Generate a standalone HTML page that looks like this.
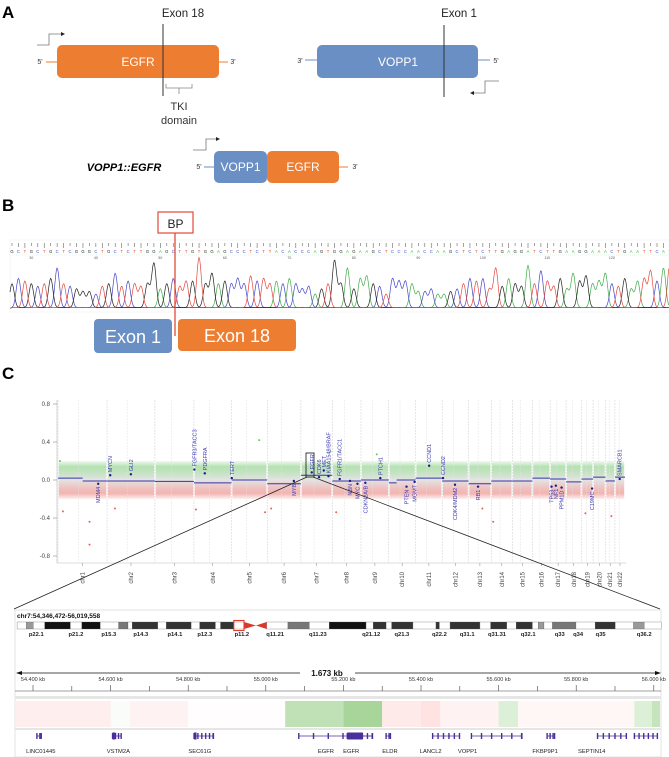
<!DOCTYPE html>
<html><head><meta charset="utf-8"><style>
html,body{margin:0;padding:0;background:#fff}
svg{display:block;font-family:"Liberation Sans",Arial,sans-serif}
</style></head><body>
<svg id="fig" width="669" height="757" viewBox="0 0 669 757" xmlns="http://www.w3.org/2000/svg">
<g>
<text x="2" y="18" font-size="17" font-weight="bold">A</text>
<text x="183" y="17" font-size="11.5" text-anchor="middle" fill="#222">Exon 18</text>
<path d="M37 45 H49 V34 H62" fill="none" stroke="#777" stroke-width="0.8"/>
<path d="M61 32 L65 34 L61 36 Z" fill="#222"/>
<line x1="46" y1="62" x2="57" y2="62" stroke="#ED7D31" stroke-width="1"/>
<line x1="219" y1="62" x2="228" y2="62" stroke="#ED7D31" stroke-width="1"/>
<text x="40" y="64" font-size="7" text-anchor="middle" fill="#333">5'</text>
<text x="233" y="64" font-size="7" text-anchor="middle" fill="#333">3'</text>
<rect x="57" y="45" width="162" height="33" rx="5" fill="#ED7D31"/>
<text x="138" y="66" font-size="12" fill="#fff" text-anchor="middle">EGFR</text>
<line x1="163" y1="24" x2="163" y2="96" stroke="#333" stroke-width="1"/>
<path d="M166 84 V88 H192 V84 M179 88 V94" fill="none" stroke="#888" stroke-width="0.8"/>
<text x="179" y="110" font-size="11" text-anchor="middle" fill="#333">TKI</text>
<text x="179" y="124" font-size="11" text-anchor="middle" fill="#333">domain</text>

<text x="459" y="17" font-size="11.5" text-anchor="middle" fill="#222">Exon 1</text>
<line x1="305" y1="60" x2="317" y2="60" stroke="#6A8FC4" stroke-width="1"/>
<line x1="478" y1="60" x2="490" y2="60" stroke="#6A8FC4" stroke-width="1"/>
<text x="300" y="63" font-size="7" text-anchor="middle" fill="#333">3'</text>
<text x="496" y="63" font-size="7" text-anchor="middle" fill="#333">5'</text>
<rect x="317" y="45" width="161" height="33" rx="5" fill="#6A8FC4"/>
<text x="398" y="66" font-size="12" fill="#fff" text-anchor="middle">VOPP1</text>
<line x1="444" y1="25" x2="444" y2="97" stroke="#333" stroke-width="1"/>
<path d="M499 81 H485 V93 H473" fill="none" stroke="#777" stroke-width="0.8"/>
<path d="M474 91 L470 93 L474 95 Z" fill="#222"/>

<text x="124" y="171" font-size="11" font-weight="bold" font-style="italic" text-anchor="middle">VOPP1::EGFR</text>
<path d="M193 150 H206 V139 H217" fill="none" stroke="#777" stroke-width="0.8"/>
<path d="M216 137 L220 139 L216 141 Z" fill="#222"/>
<line x1="204" y1="167" x2="214" y2="167" stroke="#6A8FC4" stroke-width="1"/>
<line x1="339" y1="167" x2="348" y2="167" stroke="#ED7D31" stroke-width="1"/>
<text x="199" y="169" font-size="7" text-anchor="middle" fill="#333">5'</text>
<text x="355" y="169" font-size="7" text-anchor="middle" fill="#333">3'</text>
<rect x="214" y="151" width="53" height="32" rx="5" fill="#6A8FC4"/>
<rect x="267" y="151" width="72" height="32" rx="5" fill="#ED7D31"/>
<text x="240.5" y="171" font-size="12" fill="#fff" text-anchor="middle">VOPP1</text>
<text x="303" y="171" font-size="12" fill="#fff" text-anchor="middle">EGFR</text>
</g>

<g>
<text x="2" y="211" font-size="17" font-weight="bold">B</text>
<g id="chromo"></g>
<rect x="158" y="212" width="35" height="21" fill="#fff" stroke="#E04A3A" stroke-width="1.2"/>
<text x="175.5" y="228" font-size="12" text-anchor="middle" fill="#222">BP</text>
<rect x="94" y="319" width="78" height="34" rx="4" fill="#6A8FC4"/>
<text x="133" y="343" font-size="18" fill="#fff" text-anchor="middle">Exon 1</text>
<rect x="178" y="319" width="118" height="32" rx="4" fill="#ED7D31"/>
<text x="237" y="342" font-size="18" fill="#fff" text-anchor="middle">Exon 18</text>
<line x1="175" y1="233" x2="175" y2="336" stroke="#E04A3A" stroke-width="1.3"/>
</g>

<g>
<text x="2" y="379" font-size="17" font-weight="bold">C</text>
<g id="cnv"></g>
<g id="igv"></g>
</g>
</svg>
<script>
var seqBases = "GCTGCTGCTCGGGCTGCTCTTGGAGCTTGTGGAGCCCTCTTACACCCAGTGGAGAAGCTCCCAACCAAGCTCTCTTGAGGATCTTGAAGGAAACTGAATTCAT";
var peakHeights = [.5,.6,.55,.5,.45,.5,.6,.8,.5,.45,.4,.35,.35,.3,.45,.5,.7,.45,.55,.5,.45,.5,.9,.4,.5,.6,.45,.55,.55,1.0,.5,.7,.5,.55,.5,.6,.5,.65,.55,.6,.5,.55,.5,.6,.5,.4,.45,.3,.4,.5,.95,.5,.8,.4,.6,.65,.5,.45,.3,.6,.55,.55,.5,.35,.35,.4,.3,.3,.35,.4,.5,.6,.55,.6,.4,.8,.45,.6,.5,.45,.85,.5,.75,.55,.45,.6,.4,.7,.55,.65,.5,.55,.7,.5,.45,.6,.4,.55,.6,.75,.55,.8,.9];
var baseNumbers = [30,40,50,60,70,80,90,100,110,120];
var firstBaseNum = 27;

var chromNames = ["chr1","chr2","chr3","chr4","chr5","chr6","chr7","chr8","chr9","chr10","chr11","chr12","chr13","chr14","chr15","chr16","chr17","chr18","chr19","chr20","chr21","chr22"];
var chromLengthsMb = [249,243,198,191,181,171,159,146,141,136,135,134,115,107,102,90,81,78,59,63,48,51];
var segChrom = [1,1,2,3,4,5,6,7,8,9,9,10,10,11,12,13,14,15,16,17,18,19,20,21,22];
var segStartMb = [0,125,0,0,0,0,0,0,0,0,60,0,40,0,0,0,0,0,0,0,0,0,0,0,0];
var segEndMb = [125,249,243,198,191,181,171,159,146,60,141,40,136,135,134,115,107,102,90,81,78,59,63,48,51];
var segValues = [0.02,-0.01,-0.01,-0.015,-0.03,0.0,-0.04,0.05,-0.01,0.0,0.0,-0.03,0.0,0.02,-0.01,-0.04,-0.01,-0.01,0.02,0.01,-0.02,0.01,0.03,-0.01,0.03];
var geneNames = ["MYCN","GLI2","MDM4","FGFR3/TACC3","PDGFRA","TERT","MYB","EGFR","CDK6","MET","KIAA1549/BRAF","FGFR1/TACC1","NBN","MYC","CDKN2A/B","PTCH1","PTEN","MGMT","CCND1","CCND2","CDK4/MDM2","RB1","TP53","NF1","PPM1D","C19MC","SMARCB1"];
var geneChrom = [2,2,1,4,4,5,6,7,7,7,7,8,8,8,9,9,10,10,11,12,12,13,17,17,17,19,22];
var genePosMb = [16,121,204,2,55,1,135,55,92,116,140,38,90,128,22,98,90,131,69,4,65,48,7,29,58,54,24];
var geneValues = [0.05,0.06,-0.04,0.11,0.07,0.02,-0.01,0.08,0.03,0.10,0.04,0.01,-0.01,-0.04,-0.03,0.02,-0.07,-0.02,0.15,0.02,-0.05,-0.07,-0.07,-0.06,-0.08,-0.09,0.01];
var geneAbove = [1,1,0,1,1,1,0,1,1,1,1,1,0,0,0,1,0,0,1,1,0,0,0,0,0,0,1];
var outlierChrom = [1,1,1,1,2,4,5,5,6,7,8,9,13,14,19,21];
var outlierPosMb = [25,160,160,10,40,10,140,170,20,150,20,80,70,10,20,30];
var outlierValues = [-0.33,-0.44,-0.68,0.2,-0.3,-0.31,0.42,-0.34,-0.3,0.3,-0.34,0.27,-0.3,-0.44,-0.35,-0.38];
var yTicks = [0.8,0.4,0.0,-0.4,-0.8];
var yTickLabels = ["0.8","0.4","0.0","-0.4","-0.8"];

var kbTicks = [54400,54600,54800,55000,55200,55400,55600,55800,56000];
var heatStartKb = [54346,54600,54650,54800,55050,55200,55300,55400,55450,55600,55650,55950,55995];
var heatEndKb = [54600,54650,54800,55050,55200,55300,55400,55450,55600,55650,55950,55995,56020];
var heatValues = [-0.08,0.02,-0.06,-0.01,0.22,0.3,-0.1,-0.13,-0.06,0.12,-0.04,0.12,0.2];
var geneTrackNames = ["LINC01445","VSTM2A","SEC61G","EGFR","EGFR","ELDR","LANCL2","VOPP1","FKBP9P1","SEPTIN14",""];
var geneTrackStartKb = [54410,54605,54815,55085,55210,55310,55430,55530,55725,55855,55950];
var geneTrackEndKb = [54422,54628,54865,55275,55275,55322,55500,55660,55745,55930,56010];
var geneTrackLabelKb = [54420,54620,54830,55155,55220,55320,55425,55520,55720,55840,0];

var NS="http://www.w3.org/2000/svg";
function mk(tag,attrs,parent,txt){var e=document.createElementNS(NS,tag);for(var k in attrs)e.setAttribute(k,attrs[k]);if(txt!==undefined)e.textContent=txt;parent.appendChild(e);return e;}

(function(){
  var g=document.getElementById('chromo');
  var x0=12, dx=6.45, base=310, hmax=52, top=243;
  function bx(i){return x0+i*dx;}
  var cols={A:"#3fae49",C:"#4646c8",G:"#222",T:"#e8473d"};
  mk('rect',{x:10,y:240,width:659,height:72,fill:'none',stroke:'#eee','stroke-width':0.5},g);
  mk('line',{x1:10,y1:255,x2:669,y2:255,stroke:'#cfe8cf','stroke-width':0.5,'stroke-dasharray':'1,1'},g);
  for(var i=0;i<seqBases.length;i++){
    var b=seqBases[i];
    var tk=mk('line',{x1:bx(i),y1:top,x2:bx(i),y2:top+3+(i%3),stroke:'#666','stroke-width':0.6},g);
    
    
    var t=mk('text',{x:bx(i),y:253,'font-size':4.2,'text-anchor':'middle',fill:cols[b]},g,b);
    
    
  }
  baseNumbers.forEach(function(n){
    var i=n-firstBaseNum;
    var t=mk('text',{x:bx(i),y:259,'font-size':3.5,'text-anchor':'middle',fill:'#555'},g,String(n));
    
    
  });
  ["A","C","G","T"].forEach(function(L){
    var d="";
    for(var x=10;x<=669;x+=0.7){
      var y=0;
      for(var i=0;i<seqBases.length;i++){
        var dd=x-bx(i); if(Math.abs(dd)>10)continue;
        var h=(peakHeights[i]!==undefined?peakHeights[i]:0.5);
        if(seqBases[i]===L)y+=h*Math.exp(-dd*dd/(2*2.3*2.3));
        else y+=0.04*Math.exp(-dd*dd/(2*3*3));
      }
      d+=(d?"L":"M")+x.toFixed(1)+" "+(base-y*hmax).toFixed(1);
    }
    var p=mk('path',{d:d,fill:'none',stroke:cols[L],'stroke-width':0.7},g);
    
    
  });
})();

(function(){
  var g=document.getElementById('cnv');
  var px0=58, px1=625, total=chromLengthsMb.reduce(function(a,b){return a+b;},0);
  var starts=[];var acc=0;chromLengthsMb.forEach(function(l){starts.push(acc);acc+=l;});
  function xs(chr,mb){return px0+(starts[chr-1]+mb)/total*(px1-px0);}
  function ys(v){return 480-v*95;}
  var defs=mk('defs',{},g);
  var gr=mk('linearGradient',{id:'cloud',x1:0,y1:0,x2:0,y2:1},defs);
  mk('stop',{offset:'0','stop-color':'#9cd898','stop-opacity':0.15},gr);
  mk('stop',{offset:'0.15','stop-color':'#9cd898','stop-opacity':0.75},gr);
  mk('stop',{offset:'0.5','stop-color':'#e4e4e4','stop-opacity':1},gr);
  mk('stop',{offset:'0.85','stop-color':'#ee9b97','stop-opacity':0.75},gr);
  mk('stop',{offset:'1','stop-color':'#ee9b97','stop-opacity':0.15},gr);
  var ya=mk('line',{x1:57,y1:400,x2:57,y2:563,stroke:'#bbb','stroke-width':0.6},g);
  
  
  var xa=mk('line',{x1:57,y1:563,x2:626,y2:563,stroke:'#bbb','stroke-width':0.6},g);
  
  
  yTicks.forEach(function(v,i){
    mk('line',{x1:53,y1:ys(v),x2:57,y2:ys(v),stroke:'#888','stroke-width':0.6},g);
    var t=mk('text',{x:50,y:ys(v)+2,'font-size':6,'text-anchor':'end',fill:'#444'},g,yTickLabels[i]);
    
    
  });
  chromLengthsMb.forEach(function(l,i){
    var a=xs(i+1,0), b=xs(i+1,l);
    var c=mk('rect',{x:a+0.8,y:ys(0.2),width:Math.max(b-a-1.6,0.5),height:ys(-0.2)-ys(0.2),fill:'url(#cloud)'},g);
    
    
    mk('line',{x1:a,y1:400,x2:a,y2:563,stroke:'#ccc','stroke-width':0.5,'stroke-dasharray':'2,1'},g);
    mk('line',{x1:xs(i+1,l*0.42),y1:400,x2:xs(i+1,l*0.42),y2:563,stroke:'#e2e2e2','stroke-width':0.5,'stroke-dasharray':'2,1'},g);
    mk('line',{x1:(a+b)/2,y1:563,x2:(a+b)/2,y2:566,stroke:'#888','stroke-width':0.5},g);
    var t=mk('text',{x:0,y:0,'font-size':6,'text-anchor':'end',fill:'#444',transform:'translate('+((a+b)/2+2)+',572) rotate(-90)'},g,chromNames[i]);
    
    
  });
  outlierChrom.forEach(function(c,i){
    var d=mk('circle',{cx:xs(c,outlierPosMb[i]),cy:ys(outlierValues[i]),r:1,fill:outlierValues[i]>0?'#6cc46a':'#e8605a'},g);
    
    
  });
  segChrom.forEach(function(c,i){
    var s=mk('line',{x1:xs(c,segStartMb[i]),y1:ys(segValues[i]),x2:xs(c,segEndMb[i]),y2:ys(segValues[i]),stroke:'#3535a8','stroke-width':1},g);
    
    
  });
  geneNames.forEach(function(n,i){
    var x=xs(geneChrom[i],genePosMb[i]), y=ys(geneValues[i]);
    var d=mk('circle',{cx:x,cy:y,r:1.2,fill:'#1a1a80'},g);
    
    
    var t=mk('text',{x:0,y:0,'font-size':5.5,fill:'#3a3ab0','text-anchor':geneAbove[i]?'start':'end',transform:'translate('+(x+2)+','+(geneAbove[i]?y-3:y+3)+') rotate(-90)'},g,n);
    
    
  });
  var bx=mk('rect',{x:306,y:453,width:8,height:24,fill:'none',stroke:'#111','stroke-width':0.8},g);
  
  
  mk('line',{x1:307,y1:477,x2:14,y2:609,stroke:'#222','stroke-width':0.8},g);
  mk('line',{x1:313,y1:477,x2:660,y2:609,stroke:'#222','stroke-width':0.8},g);
})();

(function(){
  var g=document.getElementById('igv');
  mk('rect',{x:15,y:610,width:646,height:147,fill:'#fff',stroke:'#ddd','stroke-width':0.8},g);
  var t=mk('text',{x:17,y:618,'font-size':6.5,'font-weight':'bold',fill:'#111'},g,'chr7:54,346,472-56,019,558');
  
  
  var bands=[[40,62,'#fff'],[62,78,'#999'],[78,105,'#fff'],[105,165,'#111'],[165,192,'#fff'],[192,235,'#111'],[235,278,'#fff'],[278,300,'#777'],[300,310,'#fff'],[310,370,'#333'],[370,390,'#fff'],[390,448,'#333'],[448,468,'#fff'],[468,505,'#333'],[505,517,'#fff'],[517,548,'#333'],[548,572,'#fff'],[625,675,'#fff'],[675,725,'#777'],[725,772,'#fff'],[772,858,'#111'],[858,875,'#fff'],[875,905,'#333'],[905,918,'#fff'],[918,968,'#333'],[968,1022,'#fff'],[1022,1030,'#333'],[1030,1055,'#fff'],[1055,1125,'#333'],[1125,1150,'#fff'],[1150,1188,'#333'],[1188,1210,'#fff'],[1210,1248,'#333'],[1248,1262,'#fff'],[1262,1275,'#999'],[1275,1295,'#fff'],[1295,1350,'#777'],[1350,1395,'#fff'],[1395,1442,'#333'],[1442,1485,'#fff'],[1485,1510,'#999'],[1510,1550,'#fff']];
  var S=2.344;
  var ig=mk('g',{},g);
  
  
  bands.forEach(function(b){mk('rect',{x:b[0]/S,y:622,width:(b[1]-b[0])/S,height:7,fill:b[2],stroke:'#555','stroke-width':0.3},ig);});
  mk('path',{d:'M'+(572/S)+' 622 L'+(600/S)+' 625.5 L'+(572/S)+' 629 Z M'+(625/S)+' 622 L'+(600/S)+' 625.5 L'+(625/S)+' 629 Z',fill:'#d8392b'},ig);
  mk('rect',{x:548/S,y:620.5,width:24/S,height:10,fill:'none',stroke:'#e53a2a','stroke-width':1.1},ig);
  var bl=[['p22.1',85],['p21.2',178],['p15.3',255],['p14.3',330],['p14.1',410],['p12.3',480],['p11.2',567],['q11.21',645],['q11.23',745],['q21.12',870],['q21.3',942],['q22.2',1030],['q31.1',1095],['q31.31',1165],['q32.1',1238],['q33',1312],['q34',1355],['q35',1408],['q36.2',1510]];
  bl.forEach(function(b){mk('text',{x:b[1]/S,y:636,'font-size':5.8,'font-weight':'bold','text-anchor':'middle',fill:'#222'},ig,b[0]);});
  mk('line',{x1:18,y1:673,x2:300,y2:673,stroke:'#111','stroke-width':0.7},g);
  mk('line',{x1:355,y1:673,x2:658,y2:673,stroke:'#111','stroke-width':0.7},g);
  mk('path',{d:'M16 673 L22 671 L22 675 Z M661 673 L655 671 L655 675 Z',fill:'#111'},g);
  var sp=mk('text',{x:327,y:676,'font-size':8,'font-weight':'bold','text-anchor':'middle',fill:'#111'},g,'1.673 kb');
  
  
  function kx(kb){return 33+(kb-54400)/200*77.6;}
  mk('line',{x1:15,y1:691,x2:661,y2:691,stroke:'#444','stroke-width':0.6},g);
  kbTicks.forEach(function(k){
    var x=kx(k);
    mk('line',{x1:x,y1:685,x2:x,y2:691,stroke:'#444','stroke-width':0.6},g);
    if(k<56000) mk('line',{x1:x+38.8,y1:686,x2:x+38.8,y2:691,stroke:'#444','stroke-width':0.6},g);
    var t=mk('text',{x:x,y:681,'font-size':5.5,'text-anchor':'middle',fill:'#333'},g,String(k).slice(0,2)+'.'+String(k).slice(2)+' kb');
    
    
  });
  mk('rect',{x:15,y:696,width:646,height:3,fill:'#e6e6e6'},g);
  heatValues.forEach(function(v,i){
    var a=Math.max(kx(heatStartKb[i]),16), b=Math.min(kx(heatEndKb[i]),660);
    var col;
    if(v>=0){var s=Math.min(v/0.3,1);col='rgb('+Math.round(255-87*s)+','+Math.round(255-41*s)+','+Math.round(255-101*s)+')';}
    else{var s2=Math.min(-v/0.15,1);col='rgb(255,'+Math.round(255-32*s2)+','+Math.round(255-32*s2)+')';}
    var r=mk('rect',{x:a,y:701,width:b-a,height:26,fill:col},g);
    
    
  });
  mk('rect',{x:15,y:728,width:646,height:2,fill:'#e6e6e6'},g);
  geneTrackNames.forEach(function(n,i){
    var a=kx(geneTrackStartKb[i]), b=Math.min(kx(geneTrackEndKb[i]),659), gg=mk('g',{},g);
    
    
    mk('line',{x1:a,y1:736,x2:b,y2:736,stroke:'#4a2f9a','stroke-width':0.8},gg);
    for(var x=a;x<=b;x+=Math.max((b-a)/5,3)) mk('rect',{x:x-0.7,y:733,width:1.4,height:6,fill:'#4a2f9a'},gg);
    mk('rect',{x:b-1,y:733,width:1.4,height:6,fill:'#4a2f9a'},gg);
    if(n==='VSTM2A') mk('rect',{x:a,y:732.5,width:3,height:7,fill:'#4a2f9a'},gg);
    if(n==='SEC61G') mk('rect',{x:a,y:732.5,width:2.5,height:7,fill:'#4a2f9a'},gg);
    if(n==='EGFR'&&i===3) mk('rect',{x:kx(55210),y:732.5,width:kx(55250)-kx(55210),height:7,fill:'#4a2f9a'},gg);
    if(n){
      var t=mk('text',{x:kx(geneTrackLabelKb[i]),y:753,'font-size':5.8,'text-anchor':'middle',fill:'#222'},g,n);
      
      
    }
  });
})();
</script>
</body></html>
